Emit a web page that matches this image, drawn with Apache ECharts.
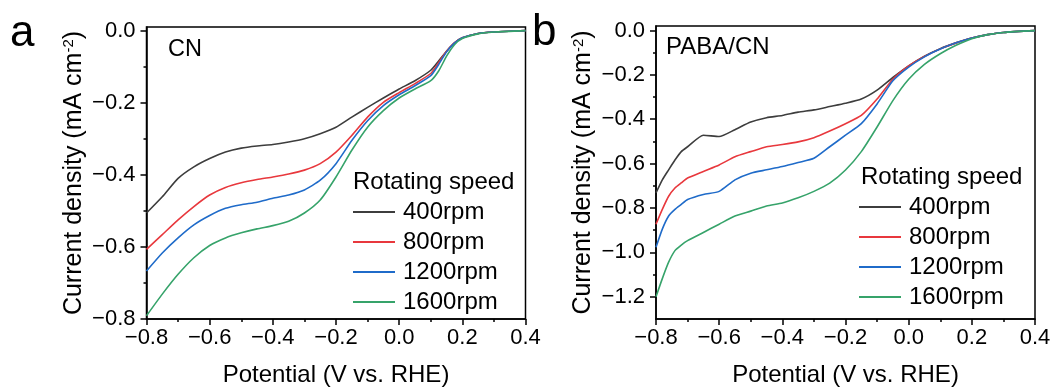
<!DOCTYPE html>
<html>
<head>
<meta charset="utf-8">
<script src="https://cdn.jsdelivr.net/npm/echarts@6/dist/echarts.min.js"></script>
<style>
html,body{margin:0;padding:0;background:#fff;}
#chart{width:1054px;height:392px;}
</style>
</head>
<body>
<div id="chart"></div>
<script>
// ---------- Data ----------
const seriesNames = ['400rpm', '800rpm', '1200rpm', '1600rpm'];
const xTicks = [-0.8, -0.6, -0.4, -0.2, 0.0, 0.2, 0.4];
const yTicksA = [-0.8, -0.6, -0.4, -0.2, 0.0];
const yMinorA = [-0.7, -0.5, -0.3, -0.1];
const yTicksB = [-1.2, -1.0, -0.8, -0.6, -0.4, -0.2, 0.0];
const yMinorB = [-1.1, -0.9, -0.7, -0.5, -0.3, -0.1];

// Panel a: CN
const potentialA = [-0.8,-0.75,-0.7,-0.65,-0.6,-0.55,-0.5,-0.45,-0.4,-0.35,-0.3,-0.25,-0.2,-0.15,-0.1,-0.05,0,0.05,0.1,0.125,0.15,0.175,0.2,0.25,0.3,0.4];
const cn400  = [-0.506,-0.461,-0.410,-0.378,-0.355,-0.337,-0.326,-0.320,-0.316,-0.309,-0.300,-0.286,-0.268,-0.240,-0.213,-0.187,-0.162,-0.139,-0.110,-0.084,-0.057,-0.034,-0.020,-0.008,-0.004,0];
const cn800  = [-0.607,-0.566,-0.525,-0.488,-0.456,-0.435,-0.422,-0.413,-0.406,-0.398,-0.387,-0.369,-0.337,-0.291,-0.240,-0.199,-0.172,-0.147,-0.119,-0.089,-0.057,-0.034,-0.020,-0.008,-0.004,0];
const cn1200 = [-0.667,-0.617,-0.575,-0.539,-0.513,-0.493,-0.483,-0.476,-0.465,-0.456,-0.442,-0.415,-0.369,-0.305,-0.250,-0.208,-0.178,-0.153,-0.125,-0.094,-0.059,-0.035,-0.020,-0.008,-0.004,0];
const cn1600 = [-0.791,-0.731,-0.676,-0.630,-0.596,-0.575,-0.561,-0.550,-0.541,-0.529,-0.506,-0.470,-0.406,-0.332,-0.268,-0.222,-0.187,-0.162,-0.139,-0.112,-0.071,-0.039,-0.022,-0.009,-0.004,0];

// Panel b: PABA/CN
const potentialB = [-0.8,-0.78,-0.76,-0.74,-0.72,-0.7,-0.65,-0.6,-0.55,-0.5,-0.45,-0.4,-0.35,-0.3,-0.25,-0.2,-0.15,-0.1,-0.05,0,0.05,0.1,0.15,0.2,0.25,0.3,0.4];
const paba400  = [-0.732,-0.673,-0.628,-0.584,-0.546,-0.524,-0.472,-0.478,-0.447,-0.413,-0.393,-0.383,-0.368,-0.358,-0.343,-0.328,-0.309,-0.269,-0.212,-0.160,-0.116,-0.082,-0.056,-0.034,-0.019,-0.009,-0.001];
const paba800  = [-0.873,-0.806,-0.747,-0.710,-0.687,-0.665,-0.635,-0.606,-0.569,-0.546,-0.524,-0.514,-0.502,-0.483,-0.453,-0.420,-0.383,-0.309,-0.220,-0.160,-0.117,-0.083,-0.056,-0.034,-0.019,-0.009,-0.001];
const paba1200 = [-0.977,-0.895,-0.836,-0.806,-0.784,-0.762,-0.739,-0.725,-0.673,-0.643,-0.628,-0.613,-0.595,-0.576,-0.524,-0.472,-0.420,-0.331,-0.227,-0.165,-0.119,-0.084,-0.056,-0.034,-0.019,-0.009,-0.001];
const paba1600 = [-1.200,-1.118,-1.044,-0.992,-0.967,-0.947,-0.910,-0.873,-0.836,-0.814,-0.791,-0.777,-0.754,-0.725,-0.688,-0.629,-0.546,-0.435,-0.316,-0.220,-0.153,-0.105,-0.067,-0.037,-0.019,-0.009,-0.001];

// ---------- Styling ----------
const colors = ['#3d3d3d', '#e8383d', '#1f6bc9', '#36a36a'];
const FONT = '"Liberation Sans", Arial, Helvetica, sans-serif';
const fmt = v => {
  const s = (Math.abs(v) < 1e-9 ? 0 : v).toFixed(1);
  return s.replace('-', '\u2212');
};

const pair = (xs, ys) => xs.map((x, i) => [x, ys[i]]);

function xAxisFor(gridIndex) {
  return {
    type: 'value', gridIndex, min: -0.8, max: 0.4, interval: 0.2,
    name: 'Potential (V vs. RHE)', nameLocation: 'middle', nameGap: 44,
    nameTextStyle: { fontFamily: FONT, fontSize: 24, color: '#000' },
    axisLine: { show: true, onZero: false, lineStyle: { color: '#000', width: 1.5 } },
    axisTick: { show: true, length: 6, lineStyle: { color: '#000', width: 1.5 } },
    minorTick: { show: true, splitNumber: 2, length: 3, lineStyle: { color: '#000', width: 1.5 } },
    axisLabel: { fontFamily: FONT, fontSize: 22, color: '#000', margin: 8, formatter: fmt, hideOverlap: false },
    splitLine: { show: false }
  };
}

function yAxisFor(gridIndex, min, max, ticks) {
  return {
    type: 'value', gridIndex, min, max, position: 'left',
    name: 'Current density (mA cm{sup|-2})', nameLocation: 'middle', nameGap: 60, nameRotate: 90,
    nameTextStyle: {
      fontFamily: FONT, fontSize: 25, color: '#000',
      rich: { sup: { fontFamily: FONT, fontSize: 15, color: '#000', verticalAlign: 'top' } }
    },
    axisLine: { show: true, onZero: false, lineStyle: { color: '#000', width: 1.5 } },
    axisTick: { show: true, length: 6, customValues: ticks, lineStyle: { color: '#000', width: 1.5 } },
    axisLabel: { fontFamily: FONT, fontSize: 22, color: '#000', margin: 11, customValues: ticks, formatter: fmt },
    splitLine: { show: false }
  };
}

function yMinorAxisFor(gridIndex, min, max, ticks) {
  return {
    type: 'value', gridIndex, min, max, position: 'left',
    axisLine: { show: false, onZero: false },
    axisTick: { show: true, length: 3, customValues: ticks, lineStyle: { color: '#000', width: 1.5 } },
    axisLabel: { show: false },
    splitLine: { show: false }
  };
}

function lineSeries(name, xIdx, yIdx, data, color) {
  return {
    type: 'line', name, xAxisIndex: xIdx, yAxisIndex: yIdx,
    data, showSymbol: false, symbol: 'none',
    smooth: 0.2,
    lineStyle: { color, width: 1.6 }, itemStyle: { color },
    animation: false, z: 3
  };
}

const seriesA = [cn400, cn800, cn1200, cn1600];
const seriesB = [paba400, paba800, paba1200, paba1600];

const series = [];
seriesA.forEach((ys, i) => series.push(lineSeries(seriesNames[i], 0, 0, pair(potentialA, ys), colors[i])));
seriesB.forEach((ys, i) => series.push(lineSeries(seriesNames[i], 1, 2, pair(potentialB, ys), colors[i])));

const legendCommon = {
  orient: 'vertical', icon: 'rect', itemWidth: 42, itemHeight: 2, itemGap: 6,
  selectedMode: false, padding: 0,
  textStyle: { fontFamily: FONT, fontSize: 24, lineHeight: 24, color: '#000', padding: [0, 0, 0, 3] },
  data: seriesNames.map((n, i) => ({ name: n, itemStyle: { color: colors[i] } }))
};

const titleText = (text, left, top, size) => ({
  text, left, top, padding: 0,
  textStyle: { fontFamily: FONT, fontSize: size, fontWeight: 'normal', color: '#000' }
});

const option = {
  backgroundColor: '#fff',
  animation: false,
  title: [
    titleText('a', 10, 12, 44),
    titleText('b', 532, 11, 44),
    titleText('CN', 168, 38, 23.5),
    titleText('PABA/CN', 666, 35, 24),
    titleText('Rotating speed', 353, 170, 24),
    titleText('Rotating speed', 861, 165, 24)
  ],
  legend: [
    Object.assign({}, legendCommon, { left: 353, top: 200 }),
    Object.assign({}, legendCommon, { left: 859, top: 195 })
  ],
  grid: [
    { left: 146.5, top: 27, width: 379, height: 295, show: true, borderColor: '#000', borderWidth: 1.5, backgroundColor: 'transparent', containLabel: false },
    { left: 656, top: 26, width: 379, height: 296, show: true, borderColor: '#000', borderWidth: 1.5, backgroundColor: 'transparent', containLabel: false }
  ],
  xAxis: [xAxisFor(0), xAxisFor(1)],
  yAxis: [
    yAxisFor(0, -0.8, 0.01, yTicksA),
    yMinorAxisFor(0, -0.8, 0.01, yMinorA),
    yAxisFor(1, -1.3, 0.02, yTicksB),
    yMinorAxisFor(1, -1.3, 0.02, yMinorB)
  ],
  series
};

const chart = echarts.init(document.getElementById('chart'), null, { renderer: 'canvas' });
chart.setOption(option);
</script>
</body>
</html>
